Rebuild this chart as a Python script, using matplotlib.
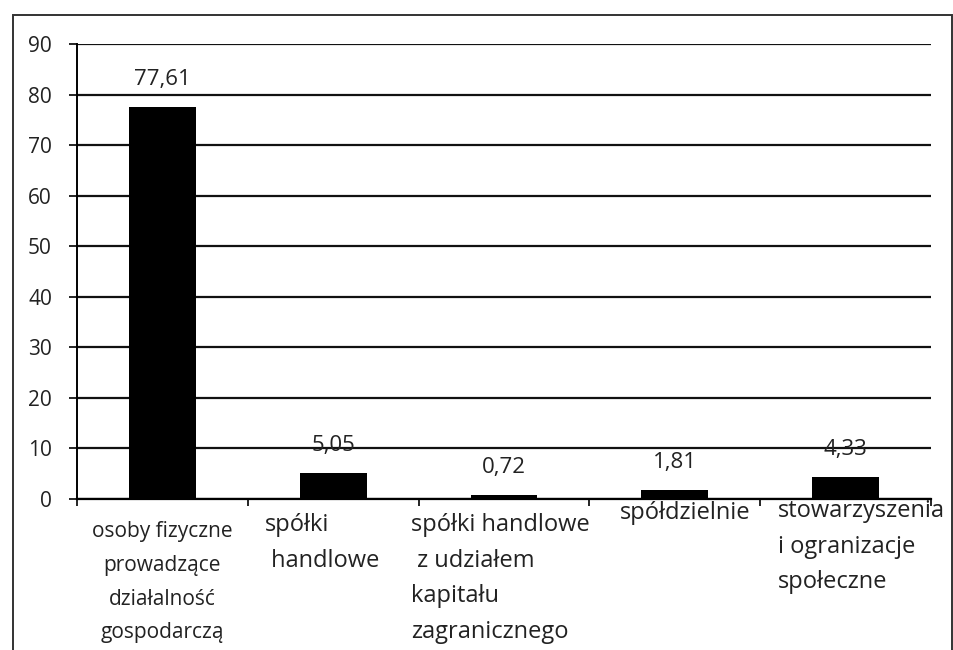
import numpy as np
import matplotlib.pyplot as plt
from matplotlib.patches import Rectangle

plt.rcParams['font.family'] = ['Open Sans', 'DejaVu Sans']

# dane
categories = ['osoby fizyczne\nprowadzące\ndziałalność\ngospodarczą',
              'spółki\n handlowe',
              'spółki handlowe\n z udziałem\nkapitału\nzagranicznego',
              'spółdzielnie',
              'stowarzyszenia\ni ogranizacje\nspołeczne']
values = [77.61, 5.05, 0.72, 1.81, 4.33]
value_labels = ['77,61', '5,05', '0,72', '1,81', '4,33']
yticks = [0, 10, 20, 30, 40, 50, 60, 70, 80, 90]

# label placement: (ha, x offset px, y offset px, fontsize, linespacing)
label_style = [('center', 0, -22, 15, 1.8),
               ('left', -68, -14, 17, 1.65),
               ('left', -93, -14, 17, 1.65),
               ('center', 10, -2, 17, 1.65),
               ('left', -68, 0, 17, 1.65)]

txt = '#222222'

fig = plt.figure(figsize=(9.54, 6.5), dpi=100)
ax = fig.add_axes([0.0807, 0.2323, 0.8952, 0.7000])

x = np.arange(len(values))
ax.bar(x, values, width=0.39, color='black', zorder=3)

for i, v in enumerate(values):
    ax.annotate(value_labels[i], xy=(i, v), xytext=(0, 17), textcoords='offset pixels',
                ha='center', va='bottom', fontsize=16, color=txt)

for i, lab in enumerate(categories):
    ha, dx, dy, fs, ls = label_style[i]
    ax.annotate(lab, xy=(i, 0), xytext=(dx, dy), textcoords='offset pixels',
                ha=ha, va='top', fontsize=fs, color=txt, linespacing=ls,
                multialignment='left' if ha == 'left' else 'center',
                annotation_clip=False)

ax.set_xlim(-0.5, len(values) - 0.5)
ax.set_ylim(0, 90)
ax.set_yticks(yticks)
ax.set_yticklabels([str(t) for t in yticks], fontsize=15, color=txt)
ax.tick_params(axis='y', length=6, width=1.2, pad=12, color='black')

ax.set_xticks([])
ax.set_xticks(np.arange(-0.5, len(values)), minor=True)
ax.tick_params(axis='x', which='minor', length=5, width=1.2, color='black')

ax.yaxis.grid(True, color='#111111', linewidth=1.6, zorder=0)
ax.set_axisbelow(True)
for s in ['top', 'right']:
    ax.spines[s].set_visible(False)
ax.spines['left'].set_linewidth(1.4)
ax.spines['bottom'].set_linewidth(1.6)

# ramka wykresu
fig.patches.append(Rectangle((13 / 954, -0.05), (952 - 13) / 954, 1.05 - 15 / 650,
                             transform=fig.transFigure, fill=False,
                             edgecolor='#333333', linewidth=1.4))

fig.savefig('out.png', dpi=100)
